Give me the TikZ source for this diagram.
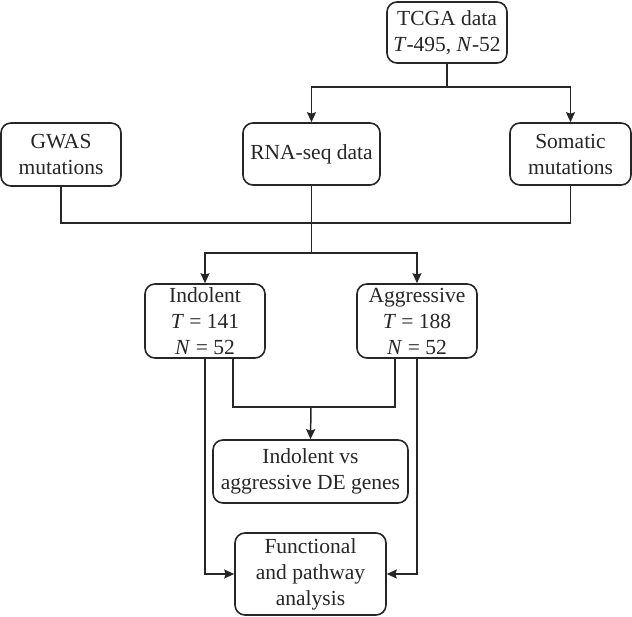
\documentclass[tikz,border=0pt]{standalone}
\usepackage{fontspec}
\setmainfont{Liberation Serif}
\usetikzlibrary{arrows.meta}
\begin{document}
\begin{tikzpicture}[x=1pt,y=-1pt,
  box/.style={draw=black!85,line width=1.6pt,rounded corners=10pt,align=center,inner sep=0pt,
    font=\fontsize{21.5}{26}\selectfont,text=black!85},
  conn/.style={draw=black!85,line width=1.5pt},
  arr/.style={conn,-{Stealth[length=10pt,width=9pt,inset=1.5pt]}}]
\useasboundingbox (0,0) rectangle (632,617);
\node[box,minimum width=120pt,minimum height=61pt] (tcga) at (447,32.5) {TCGA data\\\textit{T}-495, \textit{N}-52};
\node[box,minimum width=120pt,minimum height=63pt] (gwas) at (61,154.5) {GWAS\\mutations};
\node[box,minimum width=137pt,minimum height=62pt] (rna) at (311.5,154) {RNA-seq data};
\node[box,minimum width=121pt,minimum height=62pt] (som) at (570.5,154) {Somatic\\mutations};
\node[box,minimum width=120pt,minimum height=74pt] (ind) at (205,321) {Indolent\\\textit{T} = 141\\\textit{N} = 52};
\node[box,minimum width=120pt,minimum height=74pt] (agg) at (417,321) {Aggressive\\\textit{T} = 188\\\textit{N} = 52};
\node[box,minimum width=195pt,minimum height=63pt] (de) at (310.5,471.5) {Indolent vs\\aggressive DE genes};
\node[box,minimum width=151pt,minimum height=82pt] (fun) at (310.5,574) {Functional\\and pathway\\analysis};
\coordinate (t1) at (447,87);
\coordinate (j1) at (311.5,223);
\coordinate (j2) at (311.5,253);
\coordinate (j3) at (311,407);
% TCGA split
\draw[conn] (tcga.south) -- (t1);
\draw[arr] (t1) -| (rna.north);
\draw[arr] (t1) -| (som.north);
% merge
\draw[conn] (gwas.south) |- (j1);
\draw[conn] (som.south) |- (j1);
\draw[conn] (rna.south) -- (j2);
\draw[arr] (j2) -| (ind.north);
\draw[arr] (j2) -| (agg.north);
% DE
\draw[conn] ([xshift=28pt]ind.south) |- (j3);
\draw[conn] ([xshift=-22pt]agg.south) |- (j3);
\draw[arr] (j3) -- (de.north);
% functional
\draw[arr] (ind.south) |- (fun.west);
\draw[arr] (agg.south) |- (fun.east);
\end{tikzpicture}
\end{document}
